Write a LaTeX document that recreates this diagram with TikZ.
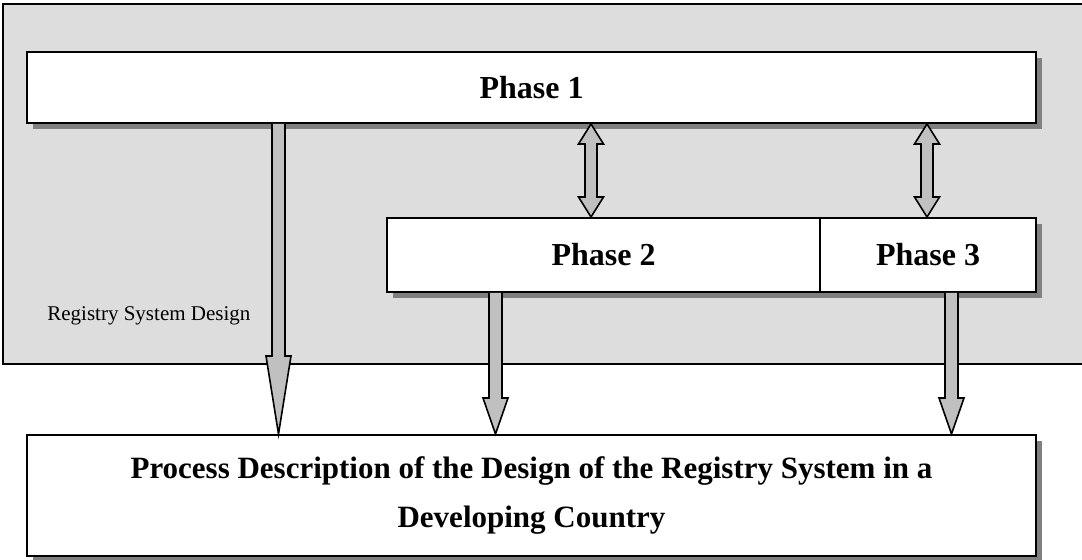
\documentclass[tikz,border=0pt]{standalone}
\usepackage{fontspec}
\setmainfont{Liberation Serif}
\usepackage{tikz}
\usetikzlibrary{calc,shadows}
\usepackage{xcolor}

\definecolor{bggray}{HTML}{DDDDDD}
\definecolor{arrowgray}{HTML}{C0C0C0}
\definecolor{shadowgray}{HTML}{808080}

\tikzset{
  sysbox/.style={draw=black,line width=1pt,fill=bggray,inner sep=0pt},
  phase/.style={draw=black,line width=1pt,fill=white,inner sep=0pt,
    font=\bfseries\fontsize{16}{19}\selectfont,
    drop shadow={shadow xshift=3pt,shadow yshift=-3pt,fill=shadowgray,opacity=1}},
  blockarrow/.style={draw=black,line width=0.8pt,fill=arrowgray,line join=miter}
}

% block arrow going down: x, from node, to node, head length
\newcommand\downblock[4]{%
  \coordinate (s) at (#1,0 |- #2.south);
  \coordinate (e) at (#1,0 |- #3.north);
  \draw[blockarrow] ($(s)+(-6.5,0)$) -- ($(e)+(-6.5,-#4)$) -- ($(e)+(-12.5,-#4)$)
    -- (e) -- ($(e)+(12.5,-#4)$) -- ($(e)+(6.5,-#4)$) -- ($(s)+(6.5,0)$);
}
% block arrow both ways: x, upper node, lower node
\newcommand\twoblock[3]{%
  \coordinate (s) at (#1,0 |- #2.south);
  \coordinate (e) at (#1,0 |- #3.north);
  \draw[blockarrow] (s) -- ($(s)+(12.5,20)$) -- ($(s)+(6,20)$) -- ($(e)+(6,-20)$)
    -- ($(e)+(12.5,-20)$) -- (e) -- ($(e)+(-12.5,-20)$) -- ($(e)+(-6,-20)$)
    -- ($(s)+(-6,20)$) -- ($(s)+(-12.5,20)$) -- cycle;
}

\begin{document}
\begin{tikzpicture}[x=0.5pt,y=-0.5pt]
  \useasboundingbox (0,0) rectangle (1082,560);

  \node[sysbox,anchor=north west,minimum width=549pt,minimum height=180pt] (RSD) at (2,3) {};
  \node[anchor=base west,inner sep=0pt,font=\fontsize{10.5}{12}\selectfont] (RSDl) at (47,321) {Registry System Design};

  \node[phase,minimum width=504.5pt,minimum height=35.5pt] (PhO) at (531.5,87.5) {Phase 1};
  \node[phase,minimum width=216.5pt,minimum height=37pt] (PhT) at (603.5,255) {Phase 2};
  \node[phase,minimum width=108pt,minimum height=37pt] (PhTh) at (928,255) {Phase 3};

  \node[phase,minimum width=504.5pt,minimum height=60.5pt,align=center,
    font=\bfseries\fontsize{15.5}{24.5}\selectfont] (PrDe) at (531.5,495.5)
    {Process Description of the Design of the Registry System in a\\Developing Country};

  % phase 1 to phases 2 and 3
  \twoblock{591}{PhO}{PhT}
  \twoblock{927}{PhO}{PhTh}

  % to the process description
  \downblock{278.5}{PhO}{PrDe}{78}
  \downblock{495.5}{PhT}{PrDe}{36}
  \downblock{951.5}{PhTh}{PrDe}{36}

\end{tikzpicture}
\end{document}
